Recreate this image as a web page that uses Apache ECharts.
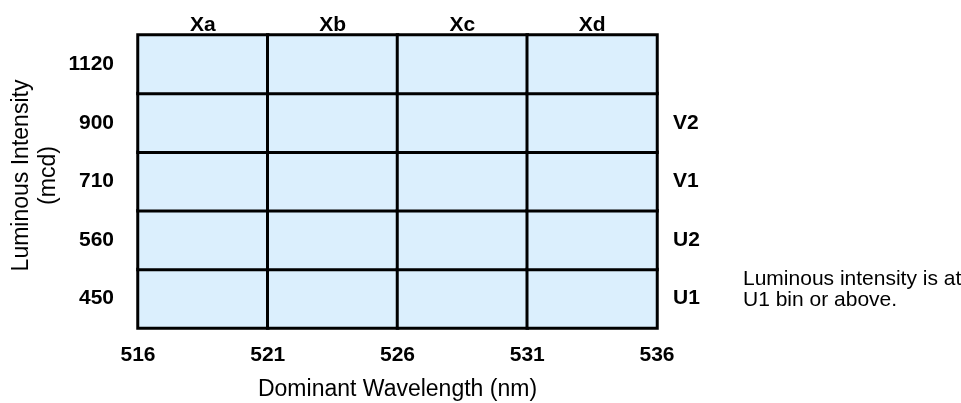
<!DOCTYPE html>
<html>
<head>
<meta charset="utf-8">
<script src="https://cdn.jsdelivr.net/npm/echarts@6/dist/echarts.min.js"></script>
<style>html,body{margin:0;padding:0;background:#fff}#c{width:961px;height:403px}</style>
</head>
<body>
<div id="c"></div>
<script>
// Column bins (dominant wavelength) and row bins (luminous intensity)
var colBins = ['Xa', 'Xb', 'Xc', 'Xd'];
var rowBins = ['450', '560', '710', '900', '1120'];
var rowCodes = ['U1', 'U2', 'V1', 'V2', ''];
var wavelengthMin = 516;
var wavelengthMax = 536;
var wavelengthStep = 5;
var xAxisTitle = 'Dominant Wavelength (nm)';
var yAxisTitle = 'Luminous Intensity\n(mcd)';
var noteText = 'Luminous intensity is at\nU1 bin or above.';

var FONT = '"Liberation Sans", Arial, Helvetica, sans-serif';

var cells = [];
for (var i = 0; i < colBins.length; i++) {
  for (var j = 0; j < rowBins.length; j++) {
    cells.push([i, j, 1]);
  }
}

var chart = echarts.init(document.getElementById('c'), null, {renderer: 'canvas'});
var boldLabel = {fontFamily: FONT, fontWeight: 'bold', fontSize: 21, color: '#000'};

chart.setOption({
  animation: false,
  backgroundColor: '#fff',
  grid: {left: 138, top: 35, right: 304, bottom: 75, containLabel: false, outerBoundsMode: 'none'},
  visualMap: {show: false, min: 0, max: 1, inRange: {color: ['#dbeffd', '#dbeffd']}},
  xAxis: [
    {
      type: 'category', data: colBins, position: 'top',
      axisLine: {show: false}, axisTick: {show: false}, splitLine: {show: false},
      axisLabel: Object.assign({margin: -1}, boldLabel)
    },
    {
      type: 'value', position: 'bottom',
      min: wavelengthMin, max: wavelengthMax, interval: wavelengthStep,
      axisLine: {show: false}, axisTick: {show: false}, splitLine: {show: false},
      axisLabel: Object.assign({margin: 17}, boldLabel),
      name: xAxisTitle, nameLocation: 'middle', nameGap: 50, nameMoveOverlap: false,
      nameTextStyle: {fontFamily: FONT, fontSize: 23, color: '#000'}
    }
  ],
  yAxis: [
    {
      type: 'category', data: rowBins, position: 'left',
      axisLine: {show: false}, axisTick: {show: false}, splitLine: {show: false},
      axisLabel: Object.assign({margin: 24}, boldLabel),
      name: yAxisTitle, nameLocation: 'middle', nameGap: 76, nameMoveOverlap: false,
      nameTextStyle: {fontFamily: FONT, fontSize: 23, lineHeight: 27, color: '#000', padding: [0, 0, 0, 12]}
    },
    {
      type: 'category', data: rowCodes, position: 'right',
      axisLine: {show: false}, axisTick: {show: false}, splitLine: {show: false},
      axisLabel: Object.assign({margin: 16}, boldLabel)
    }
  ],
  graphic: [{
    type: 'text', left: 743, top: 269,
    style: {text: noteText, font: '21px ' + FONT, fill: '#000', lineHeight: 21}
  }],
  series: [{
    type: 'heatmap', xAxisIndex: 0, yAxisIndex: 0,
    data: cells,
    itemStyle: {borderColor: '#000', borderWidth: 3},
    label: {show: false},
    emphasis: {disabled: true}
  }]
});
</script>
</body>
</html>
